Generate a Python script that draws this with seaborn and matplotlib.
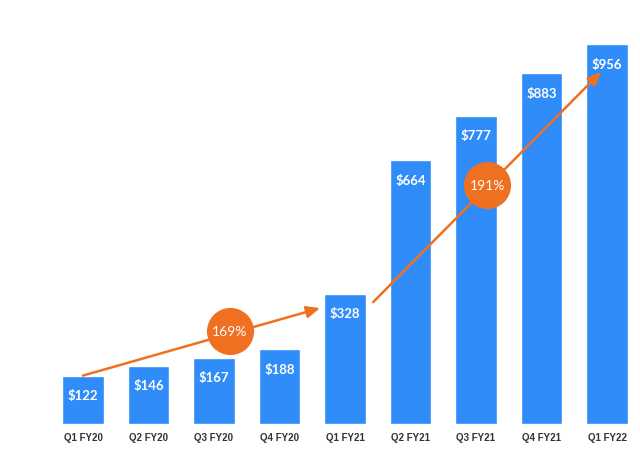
import numpy as np
import pandas as pd
import seaborn as sns
from matplotlib import pyplot as plt

# Revenue by quarter ($M)
quarters = ["Q1 FY20", "Q2 FY20", "Q3 FY20", "Q4 FY20", "Q1 FY21",
            "Q2 FY21", "Q3 FY21", "Q4 FY21", "Q1 FY22"]
revenue = [122, 146, 167, 188, 328, 664, 777, 883, 956]
growth_labels = ["169%", "191%"]

blue = "#2f8cf8"
orange = "#f07022"

sns.set_style("white")
plt.rcParams["font.family"] = ["Lato", "DejaVu Sans"]

df = pd.DataFrame({"quarter": quarters, "revenue": revenue})

fig = plt.figure(figsize=(6.4, 4.56), dpi=100)
ax = fig.add_axes([0, 31 / 456, 1, 425 / 456])
sns.barplot(data=df, x="quarter", y="revenue", color=blue, saturation=1,
            width=0.64, ax=ax)

ax.set_xlim(-83 / 65.5, (640 - 83) / 65.5)
ax.set_ylim(0, 425 / 0.397)
sns.despine(ax=ax, left=True, bottom=True)
ax.set_xlabel("")
ax.set_ylabel("")
ax.set_yticks([])
ax.tick_params(axis="x", length=0, pad=6)
for lbl in ax.get_xticklabels():
    lbl.set_fontfamily("Liberation Sans")
    lbl.set_fontweight("bold")
    lbl.set_fontsize(7)
    lbl.set_color("#333333")

# value labels inside bar tops
for i, v in enumerate(revenue):
    ax.annotate(f"${v}", (i, v), xytext=(0, -14), textcoords="offset points",
                ha="center", va="center", color="white", fontsize=9.5,
                fontweight="bold")

# growth arrows
arrows = [((0, revenue[0]), (3.62, 292), (2.24, 234)),
          ((4.43, 307), (7.91, 887), (6.17, 602))]
for (start, end, circ), txt in zip(arrows, growth_labels):
    ax.annotate("", xy=end, xytext=start,
                arrowprops=dict(arrowstyle="-|>,head_length=0.8,head_width=0.35",
                                color=orange, lw=1.8, shrinkA=0, shrinkB=0))
    ax.scatter([circ[0]], [circ[1]], s=1150, color=orange, zorder=5,
               linewidths=0)
    ax.text(circ[0], circ[1], txt, ha="center", va="center", color="white",
            fontsize=10, zorder=6)

fig.savefig("out.png", dpi=100)
